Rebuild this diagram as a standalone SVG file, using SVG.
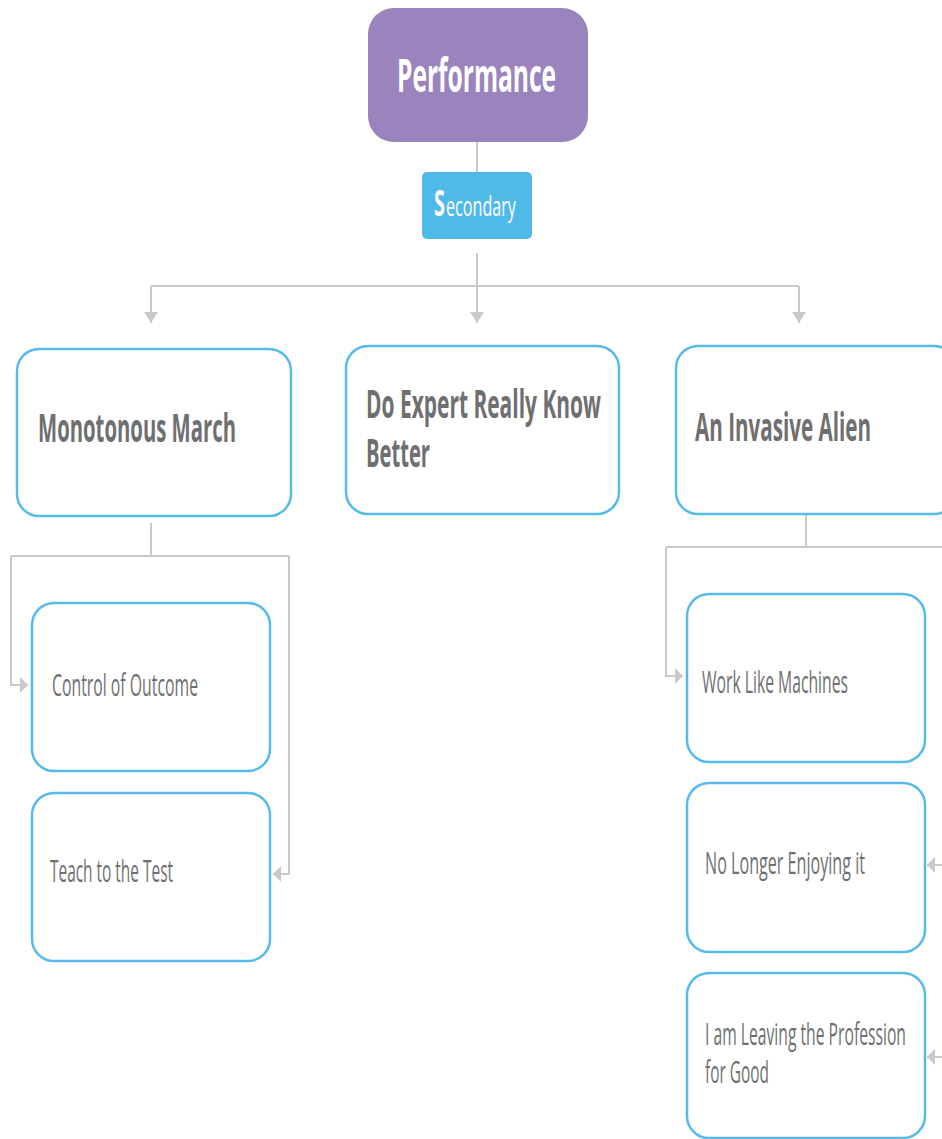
<svg xmlns="http://www.w3.org/2000/svg" width="942" height="1139" viewBox="0 0 942 1139">
  <style>
    .box { fill: #ffffff; stroke: #56BBEA; stroke-width: 2.5; }
    .link { fill: none; stroke: #C9C9C9; stroke-width: 2; }
    .title { font-family: "Open Sans", "Liberation Sans", sans-serif; font-weight: 700; font-size: 40px; fill: #6F6F71; }
    .item { font-family: "Open Sans", "Liberation Sans", sans-serif; font-weight: 400; font-size: 31px; fill: #6F6F71; }
  </style>
  <defs>
    <marker id="arrowDown" viewBox="0 0 11 14" refX="11" refY="7" markerWidth="11" markerHeight="14" markerUnits="userSpaceOnUse" orient="auto">
      <path d="M0,0 L11,7 L0,14 z" fill="#C9C9C9"/>
    </marker>
    <marker id="arrowSide" viewBox="0 0 8 16" refX="8" refY="8" markerWidth="8" markerHeight="16" markerUnits="userSpaceOnUse" orient="auto">
      <path d="M0,0 L8,8 L0,16 z" fill="#C9C9C9"/>
    </marker>
  </defs>

  <!-- connectors -->
  <g id="connectors">
    <line class="link" x1="477" y1="142" x2="477" y2="172"/>
    <line class="link" x1="477" y1="253" x2="477" y2="286"/>
    <line class="link" x1="151" y1="286" x2="799" y2="286"/>
    <polyline class="link" points="151,286 151,323" marker-end="url(#arrowDown)"/>
    <polyline class="link" points="477,286 477,323" marker-end="url(#arrowDown)"/>
    <polyline class="link" points="799,286 799,323" marker-end="url(#arrowDown)"/>

    <line class="link" x1="151" y1="523" x2="151" y2="556"/>
    <line class="link" x1="11" y1="556" x2="289" y2="556"/>
    <polyline class="link" points="11,556 11,685 28,685" marker-end="url(#arrowSide)"/>
    <polyline class="link" points="289,556 289,874 273,874" marker-end="url(#arrowSide)"/>

    <line class="link" x1="806" y1="515" x2="806" y2="547"/>
    <line class="link" x1="666" y1="547" x2="950" y2="547"/>
    <polyline class="link" points="666,547 666,676 683,676" marker-end="url(#arrowSide)"/>
    <polyline class="link" points="950,865 927,865" marker-end="url(#arrowSide)"/>
    <polyline class="link" points="950,1057 927,1057" marker-end="url(#arrowSide)"/>
  </g>

  <g id="performance">
    <rect x="368" y="8" width="220" height="134" rx="26" fill="#9B84BE"/>
    <text transform="translate(397,92) scale(0.52,1)" font-family="'Open Sans', 'Liberation Sans', sans-serif" font-weight="700" font-size="46" fill="#ffffff" textLength="306" lengthAdjust="spacingAndGlyphs">Performance</text>
  </g>

  <g id="secondary">
    <rect x="422" y="172" width="110" height="67" rx="5" fill="#4FB9E8"/>
    <text transform="translate(434,216) scale(0.59,1)" font-family="'Open Sans', 'Liberation Sans', sans-serif" fill="#ffffff"><tspan x="0" font-size="35" font-weight="700" textLength="18.6" lengthAdjust="spacingAndGlyphs">S</tspan><tspan x="20.3" font-size="27" textLength="118.6" lengthAdjust="spacingAndGlyphs">econdary</tspan></text>
  </g>

  <g id="monotonous-march">
    <rect class="box" x="17" y="349" width="274" height="167" rx="22"/>
    <text class="title" transform="translate(38,442) scale(0.52,1)" textLength="380.8" lengthAdjust="spacingAndGlyphs">Monotonous March</text>
  </g>

  <g id="do-expert">
    <rect class="box" x="346" y="346" width="273" height="168" rx="22"/>
    <text class="title" transform="translate(366,418) scale(0.52,1)" textLength="451.9" lengthAdjust="spacingAndGlyphs">Do Expert Really Know</text>
    <text class="title" transform="translate(366,467) scale(0.52,1)" textLength="123.1" lengthAdjust="spacingAndGlyphs">Better</text>
  </g>

  <g id="invasive-alien">
    <rect class="box" x="676" y="346" width="280" height="168" rx="22"/>
    <text class="title" transform="translate(695,441) scale(0.52,1)" textLength="338.5" lengthAdjust="spacingAndGlyphs">An Invasive Alien</text>
  </g>

  <g id="control-of-outcome">
    <rect class="box" x="32" y="603" width="238" height="168" rx="22"/>
    <text class="item" transform="translate(52,696) scale(0.52,1)" textLength="280.8" lengthAdjust="spacingAndGlyphs">Control of Outcome</text>
  </g>

  <g id="teach-to-the-test">
    <rect class="box" x="32" y="793" width="238" height="168" rx="22"/>
    <text class="item" transform="translate(50,882) scale(0.52,1)" textLength="236.5" lengthAdjust="spacingAndGlyphs">Teach to the Test</text>
  </g>

  <g id="work-like-machines">
    <rect class="box" x="687" y="594" width="238" height="168" rx="22"/>
    <text class="item" transform="translate(702,693) scale(0.52,1)" textLength="280.8" lengthAdjust="spacingAndGlyphs">Work Like Machines</text>
  </g>

  <g id="no-longer-enjoying">
    <rect class="box" x="687" y="783" width="238" height="169" rx="22"/>
    <text class="item" transform="translate(705,874) scale(0.52,1)" textLength="307.7" lengthAdjust="spacingAndGlyphs">No Longer Enjoying it</text>
  </g>

  <g id="leaving-profession">
    <rect class="box" x="687" y="973" width="238" height="165" rx="22"/>
    <text class="item" transform="translate(705,1045) scale(0.52,1)" textLength="386.5" lengthAdjust="spacingAndGlyphs">I am Leaving the Profession</text>
    <text class="item" transform="translate(705,1083) scale(0.52,1)" textLength="123.1" lengthAdjust="spacingAndGlyphs">for Good</text>
  </g>
</svg>
